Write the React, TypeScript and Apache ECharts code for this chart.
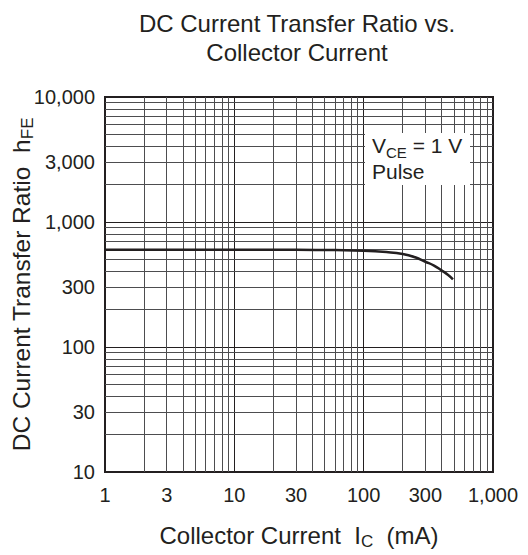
import React, { useEffect, useRef } from "react";
import * as echarts from "echarts";

// Data
const collectorCurrent = [1, 3, 10, 30, 60, 100, 150, 200, 250, 300, 350, 400, 450, 490];
const hFE = [600, 600, 600, 599, 596, 590, 575, 555, 522, 481, 448, 410, 377, 348];

// Axis tick labels
const xTickLabels = [1, 3, 10, 30, 100, 300, 1000];
const yTickLabels = [10, 30, 100, 300, 1000, 3000, 10000];

// Decades used for the minor log grid
const xDecades = [1, 10, 100];
const yDecades = [10, 100, 1000];
const minorSteps = [2, 3, 4, 5, 6, 7, 8, 9];

const INK = "#231f20";
const MINOR = "#4d4d4f";
const FONT = "Liberation Sans, Arial, Helvetica, sans-serif";

const fmt = (v: number) => v.toLocaleString("en-US");
const isPow10 = (v: number) => Math.abs(Math.log10(v) - Math.round(Math.log10(v))) < 1e-9;

export default function App() {
  const ref = useRef<HTMLDivElement>(null);

  useEffect(() => {
    if (!ref.current) return;
    const chart = echarts.init(ref.current, undefined, { renderer: "svg" });

    const xMinor = xDecades.flatMap((d) => minorSteps.map((m) => d * m));
    const yMinor = yDecades.flatMap((d) => minorSteps.map((m) => d * m));

    const markData: any[] = [];
    xMinor.forEach((v) => {
      const labelled = xTickLabels.includes(v) && !isPow10(v);
      markData.push({
        xAxis: v,
        lineStyle: { color: MINOR, width: 1, type: "solid" },
        label: labelled
          ? { show: true, position: "start", distance: 13, formatter: fmt(v), fontSize: 20, color: INK, fontFamily: FONT }
          : { show: false },
      });
    });
    yMinor.forEach((v) => {
      const labelled = yTickLabels.includes(v) && !isPow10(v);
      markData.push({
        yAxis: v,
        lineStyle: { color: MINOR, width: 1, type: "solid" },
        label: labelled
          ? { show: true, position: "start", distance: 10, formatter: fmt(v), fontSize: 20, color: INK, fontFamily: FONT }
          : { show: false },
      });
    });

    chart.setOption({
      animation: false,
      textStyle: { fontFamily: FONT, color: INK },
      title: {
        text: "DC Current Transfer Ratio vs.\nCollector Current",
        left: 292,
        top: 4,
        textAlign: "center",
        textStyle: { fontSize: 24, fontWeight: "normal", color: INK, lineHeight: 29, fontFamily: FONT },
      },
      grid: {
        left: 105,
        right: 35,
        top: 97,
        bottom: 83,
        containLabel: false,
        outerBoundsMode: "none",
        show: true,
        borderColor: INK,
        borderWidth: 2,
        backgroundColor: "transparent",
      },
      xAxis: {
        type: "log",
        logBase: 10,
        min: 1,
        max: 1000,
        splitNumber: 3,
        axisLine: { show: true, lineStyle: { color: INK, width: 2 } },
        axisTick: { show: false },
        axisLabel: { fontSize: 20, color: INK, margin: 13, fontFamily: FONT, formatter: (v: number) => fmt(v) },
        splitLine: { show: true, lineStyle: { color: INK, width: 1 } },
        name: "{a|Collector Current  I}{s|C}{a|  (mA)}",
        nameLocation: "middle",
        nameGap: 51,
        nameMoveOverlap: false,
        nameTextStyle: {
          rich: {
            a: { fontSize: 24, lineHeight: 24, color: INK, fontFamily: FONT },
            s: { fontSize: 17, lineHeight: 17, padding: [13, 0, 0, 0], color: INK, fontFamily: FONT },
          },
        },
      },
      yAxis: {
        type: "log",
        logBase: 10,
        min: 10,
        max: 10000,
        splitNumber: 3,
        axisLine: { show: true, lineStyle: { color: INK, width: 2 } },
        axisTick: { show: false },
        axisLabel: { fontSize: 20, color: INK, margin: 10, fontFamily: FONT, formatter: (v: number) => fmt(v) },
        splitLine: { show: true, lineStyle: { color: INK, width: 1 } },
        name: "{a|DC Current Transfer Ratio  h}{s|FE}",
        nameLocation: "middle",
        nameRotate: 90,
        nameGap: 72,
        nameMoveOverlap: false,
        nameTextStyle: {
          rich: {
            a: { fontSize: 24.5, lineHeight: 24, color: INK, fontFamily: FONT },
            s: { fontSize: 17, lineHeight: 17, padding: [13, 0, 0, 0], color: INK, fontFamily: FONT },
          },
        },
      },
      series: [
        {
          type: "line",
          name: "grid",
          z: 1,
          data: [[1, 10]],
          showSymbol: false,
          symbol: "none",
          lineStyle: { width: 0 },
          silent: true,
          markLine: {
            z: 1,
            silent: true,
            symbol: "none",
            animation: false,
            emphasis: { disabled: true },
            label: { show: false },
            data: markData,
          },
        },
        {
          type: "line",
          name: "hFE",
          z: 5,
          smooth: true,
          showSymbol: false,
          symbol: "none",
          lineStyle: { color: INK, width: 2.5 },
          data: collectorCurrent.map((c, i) => [c, hFE[i]]),
        },
      ],
      graphic: [
        {
          type: "rect",
          z: 100,
          shape: { x: 365, y: 133, width: 105, height: 52 },
          style: { fill: "#ffffff" },
        },
        {
          type: "text",
          z: 101,
          x: 372,
          y: 133,
          style: {
            text: "{a|V}{s|CE}{a| = 1 V}",
            verticalAlign: "top",
            fill: INK,
            rich: {
              a: { fontSize: 21, lineHeight: 25, fill: INK, fontFamily: FONT },
              s: { fontSize: 15, lineHeight: 15, padding: [13, 0, 0, 0], fill: INK, fontFamily: FONT },
            },
          },
        },
        {
          type: "text",
          z: 101,
          x: 372,
          y: 171,
          style: {
            text: "Pulse",
            verticalAlign: "middle",
            fontSize: 21,
            fill: INK,
            fontFamily: FONT,
          },
        },
      ],
    });

    return () => chart.dispose();
  }, []);

  return (
    <div
      ref={ref}
      style={{ position: "fixed", left: 0, top: 0, width: 528, height: 555, background: "#fff" }}
    />
  );
}
